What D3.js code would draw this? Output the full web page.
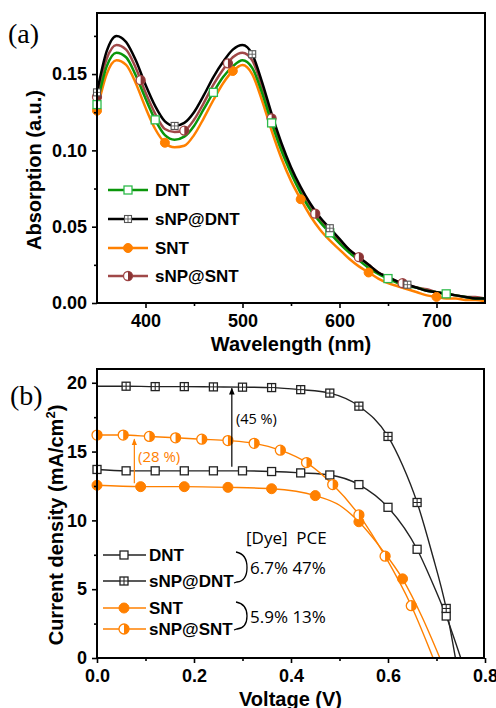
<!DOCTYPE html>
<html>
<head>
<meta charset="utf-8">
<script src="https://cdn.jsdelivr.net/npm/d3@7"></script>
<style>
  body { margin: 0; background: #fff; }
  svg { display: block; }
  .tk text { font-family: "Liberation Sans", Arial, sans-serif; font-weight: bold; font-size: 18px; fill: #000; }
  .tk line { stroke: #000; stroke-width: 1.6px; }
  .ttl { font-family: "Liberation Sans", Arial, sans-serif; font-weight: bold; font-size: 20px; }
  .lg { font-family: "Liberation Sans", Arial, sans-serif; font-weight: bold; font-size: 17px; }
  .note { font-family: "Open Sans", "Noto Sans", sans-serif; font-size: 17px; white-space: pre; }
</style>
</head>
<body>
<div id="chart"></div>
<script>
// ---- (a) absorption spectra ----
const wavelength = [350,360,370,380,390,400,410,420,430,440,450,460,470,480,490,500,510,520,530,540,550,
                    560,570,580,590,600,610,620,630,640,650,660,670,680,690,700,710,720,730,740,750];
const absDNT    = [0.130,0.155,0.164,0.161,0.149,0.134,0.120,0.110,0.107,0.109,0.116,0.127,0.138,0.148,0.155,0.159,0.154,0.138,0.118,0.100,0.085,
                   0.072,0.061,0.053,0.046,0.039,0.033,0.028,0.023,0.019,0.016,0.013,0.011,0.010,0.008,0.007,0.006,0.005,0.004,0.003,0.003];
const absSNPDNT = [0.138,0.165,0.175,0.171,0.159,0.143,0.129,0.119,0.116,0.118,0.125,0.136,0.148,0.158,0.166,0.169,0.163,0.145,0.124,0.105,0.089,
                   0.076,0.065,0.056,0.049,0.042,0.035,0.030,0.025,0.020,0.017,0.014,0.012,0.010,0.008,0.007,0.006,0.005,0.004,0.003,0.003];
const absSNT    = [0.126,0.150,0.159,0.156,0.144,0.128,0.114,0.105,0.102,0.103,0.110,0.121,0.133,0.144,0.152,0.156,0.150,0.133,0.113,0.095,0.080,
                   0.068,0.057,0.048,0.041,0.035,0.029,0.024,0.020,0.016,0.013,0.011,0.009,0.007,0.005,0.004,0.003,0.003,0.002,0.002,0.001];
const absSNPSNT = [0.135,0.160,0.169,0.166,0.154,0.138,0.124,0.114,0.112,0.113,0.120,0.131,0.143,0.153,0.161,0.164,0.159,0.142,0.121,0.103,0.087,
                   0.074,0.063,0.054,0.047,0.041,0.035,0.030,0.025,0.020,0.017,0.014,0.012,0.010,0.009,0.007,0.006,0.005,0.004,0.004,0.003];
const markDNTa    = [350,410,470,530,590,650,710];
const markSNPDNTa = [350,430,510,590,670];
const markSNTa    = [350,420,490,560,630,700];
const markSNPSNTa = [350,395,440,485,530,575,620,665];
const xTicksA = [400,500,600,700];
const xMinorA = [450,550,650];
const yTicksA = [0,0.05,0.10,0.15];
const yMinorA = [0.025,0.075,0.125,0.175];

// ---- (b) J-V curves ----
const vSNPDNT = [0,0.06,0.12,0.18,0.24,0.30,0.36,0.42,0.48,0.54,0.60,0.63,0.66,0.69,0.72,0.739];
const jSNPDNT = [19.75,19.75,19.72,19.72,19.70,19.68,19.65,19.50,19.25,18.30,16.10,14.00,11.30,7.70,3.60,0];
const vDNT = [0,0.06,0.12,0.18,0.24,0.30,0.36,0.42,0.48,0.54,0.60,0.66,0.69,0.72,0.75];
const jDNT = [13.70,13.60,13.60,13.60,13.60,13.60,13.55,13.45,13.30,12.60,10.95,7.90,5.60,3.05,0];
const vSNT = [0,0.09,0.18,0.27,0.36,0.45,0.50,0.54,0.585,0.63,0.67,0.707];
const jSNT = [12.55,12.45,12.45,12.40,12.30,11.80,11.10,9.90,8.00,5.75,3.00,0];
const vSNPSNT = [0,0.054,0.108,0.162,0.216,0.27,0.324,0.378,0.432,0.486,0.54,0.594,0.648,0.693];
const jSNPSNT = [16.20,16.20,16.10,16.00,15.90,15.80,15.60,15.10,14.20,12.60,10.40,7.40,3.80,0];
const markSNPDNTb = [0.06,0.12,0.18,0.24,0.30,0.36,0.42,0.48,0.54,0.60,0.66,0.72];
const markDNTb    = [0,0.06,0.12,0.18,0.24,0.30,0.36,0.42,0.48,0.54,0.60,0.66,0.72];
const markSNTb    = [0,0.09,0.18,0.27,0.36,0.45,0.54,0.63];
const markSNPSNTb = [0,0.054,0.108,0.162,0.216,0.27,0.324,0.378,0.432,0.486,0.54,0.594,0.648];
const xTicksB = [0,0.2,0.4,0.6,0.8];
const xMinorB = [0.1,0.3,0.5,0.7];
const yTicksB = [0,5,10,15,20];
const yMinorB = [2.5,7.5,12.5,17.5];

const W = 496, H = 708;
const svg = d3.select("#chart").append("svg").attr("width", W).attr("height", H);

const defs = svg.append("defs");
function arrowDef(id, color) {
  defs.append("marker").attr("id", id)
    .attr("viewBox", "0 0 10 10").attr("refX", 9).attr("refY", 5)
    .attr("markerWidth", 7).attr("markerHeight", 7).attr("markerUnits", "userSpaceOnUse")
    .attr("orient", "auto")
    .append("path").attr("d", "M0,1 L10,5 L0,9 Z").attr("fill", color);
}
arrowDef("arrK", "#000");
arrowDef("arrO", "#ff8000");

// linear lookup on a series (for marker positions)
function at(xs, ys, x) {
  const i = d3.bisectLeft(xs, x);
  if (xs[i] === x) return ys[i];
  const t = (x - xs[i - 1]) / (xs[i] - xs[i - 1]);
  return ys[i - 1] + t * (ys[i] - ys[i - 1]);
}

// marker shapes
function drawMark(g, type, cx, cy, o) {
  const s = o.size;
  if (type === "sq" || type === "sqx") {
    g.append("rect").attr("x", cx - s / 2).attr("y", cy - s / 2).attr("width", s).attr("height", s)
      .attr("fill", "#fff").attr("stroke", o.stroke).attr("stroke-width", o.sw);
    if (type === "sqx") {
      g.append("line").attr("x1", cx - s / 2).attr("x2", cx + s / 2).attr("y1", cy).attr("y2", cy)
        .attr("stroke", o.stroke).attr("stroke-width", o.sw * 0.8);
      g.append("line").attr("x1", cx).attr("x2", cx).attr("y1", cy - s / 2).attr("y2", cy + s / 2)
        .attr("stroke", o.stroke).attr("stroke-width", o.sw * 0.8);
    }
  } else if (type === "dot") {
    g.append("circle").attr("cx", cx).attr("cy", cy).attr("r", s / 2).attr("fill", o.fill).attr("stroke", o.fill);
  } else if (type === "half") {
    const r = s / 2;
    g.append("circle").attr("cx", cx).attr("cy", cy).attr("r", r).attr("fill", "#fff")
      .attr("stroke", o.stroke).attr("stroke-width", o.sw);
    g.append("path").attr("d", `M${cx},${cy - r} A${r},${r} 0 0 1 ${cx},${cy + r} Z`).attr("fill", o.fill);
  }
}

function frameAxes(x, y, top, bottom, left, right, xt, xm, yt, ym, xf, yf) {
  const gx = svg.append("g").attr("class", "tk").attr("transform", `translate(0,${bottom})`);
  gx.call(d3.axisBottom(x).tickValues(xt).tickSize(5).tickPadding(6).tickFormat(xf));
  gx.call(g => g.select(".domain").remove());
  const gxm = svg.append("g").attr("class", "tk").attr("transform", `translate(0,${bottom})`);
  gxm.call(d3.axisBottom(x).tickValues(xm).tickSize(3).tickFormat(""));
  gxm.select(".domain").remove();
  const gy = svg.append("g").attr("class", "tk").attr("transform", `translate(${left},0)`);
  gy.call(d3.axisLeft(y).tickValues(yt).tickSize(5).tickPadding(5).tickFormat(yf));
  gy.select(".domain").remove();
  const gym = svg.append("g").attr("class", "tk").attr("transform", `translate(${left},0)`);
  gym.call(d3.axisLeft(y).tickValues(ym).tickSize(3).tickFormat(""));
  gym.select(".domain").remove();
  svg.append("rect").attr("x", left).attr("y", top).attr("width", right - left).attr("height", bottom - top)
    .attr("fill", "none").attr("stroke", "#000").attr("stroke-width", 2);
}

// ================= panel (a) =================
const A = { left: 97, right: 485, top: 13, bottom: 303 };
const xA = d3.scaleLinear().domain([350, 750]).range([A.left, A.right]);
const yA = d3.scaleLinear().domain([0, 0.19]).range([A.bottom, A.top]);

const seriesA = [
  { name: "DNT",     ys: absDNT,    marks: markDNTa,    color: "#0a960a", type: "sq",   mk: { size: 8, stroke: "#2dbb4a", sw: 1.3 } },
  { name: "sNP@DNT", ys: absSNPDNT, marks: markSNPDNTa, color: "#000",    type: "sqx",  mk: { size: 7, stroke: "#555", sw: 1.1 } },
  { name: "SNT",     ys: absSNT,    marks: markSNTa,    color: "#ff8000", type: "dot",  mk: { size: 9, fill: "#ff8000" } },
  { name: "sNP@SNT", ys: absSNPSNT, marks: markSNPSNTa, color: "#a04848", type: "half", mk: { size: 9, stroke: "#a04848", fill: "#8a3434", sw: 1.3 } }
];

const lineA = d3.line().x((d, i) => xA(wavelength[i])).y(d => yA(d)).curve(d3.curveMonotoneX);
const plotA = svg.append("g");
// draw order so that black ends up on top like the reference
[2, 3, 0, 1].forEach(k => {
  const s = seriesA[k];
  plotA.append("path").attr("d", lineA(s.ys)).attr("fill", "none")
    .attr("stroke", s.color).attr("stroke-width", 2.5);
});
[2, 3, 0, 1].forEach(k => {
  const s = seriesA[k];
  s.marks.forEach(w => drawMark(plotA, s.type, xA(w), yA(at(wavelength, s.ys, w)), s.mk));
});

frameAxes(xA, yA, A.top, A.bottom, A.left, A.right, xTicksA, xMinorA, yTicksA, yMinorA,
  d3.format("d"), d3.format(".2f"));

// legend (a)
const legA = svg.append("g");
const legAy = [190, 219, 248, 276];
seriesA.forEach((s, i) => {
  const yy = legAy[i];
  legA.append("line").attr("x1", 108).attr("x2", 148).attr("y1", yy).attr("y2", yy)
    .attr("stroke", s.color).attr("stroke-width", 2.5);
  drawMark(legA, s.type, 128, yy, s.mk);
  legA.append("text").attr("class", "lg").attr("x", 155).attr("y", yy).attr("dy", "0.36em").text(s.name);
});

svg.append("text").attr("class", "ttl").attr("text-anchor", "middle")
  .attr("x", (A.left + A.right) / 2).attr("y", 351).text("Wavelength (nm)");
svg.append("text").attr("class", "ttl").attr("text-anchor", "middle")
  .attr("transform", "translate(41,170) rotate(-90)").text("Absorption (a.u.)");
svg.append("text").attr("x", 8).attr("y", 43)
  .style("font-family", "'Liberation Serif', 'Times New Roman', serif").style("font-size", "28px").text("(a)");

// ================= panel (b) =================
const B = { left: 97, right: 484, top: 369, bottom: 658 };
const xB = d3.scaleLinear().domain([0, 0.8]).range([B.left, B.right + 1]);
const yB = d3.scaleLinear().domain([0, 21]).range([B.bottom, B.top]);

const seriesB = [
  { name: "DNT",     vs: vDNT,    js: jDNT,    marks: markDNTb,    color: "#222", type: "sq",   mk: { size: 8, stroke: "#222", sw: 1.3 } },
  { name: "sNP@DNT", vs: vSNPDNT, js: jSNPDNT, marks: markSNPDNTb, color: "#222", type: "sqx",  mk: { size: 8, stroke: "#222", sw: 1.3 } },
  { name: "SNT",     vs: vSNT,    js: jSNT,    marks: markSNTb,    color: "#ff8000", type: "dot",  mk: { size: 10, fill: "#ff8000" } },
  { name: "sNP@SNT", vs: vSNPSNT, js: jSNPSNT, marks: markSNPSNTb, color: "#ff8000", type: "half", mk: { size: 10, stroke: "#ff8000", fill: "#ff8000", sw: 1.3 } }
];

const plotB = svg.append("g");
seriesB.forEach(s => {
  const ln = d3.line().x((d, i) => xB(s.vs[i])).y(d => yB(d)).curve(d3.curveMonotoneX);
  plotB.append("path").attr("d", ln(s.js)).attr("fill", "none")
    .attr("stroke", s.color).attr("stroke-width", 1.4);
});
seriesB.forEach(s => {
  s.marks.forEach(v => drawMark(plotB, s.type, xB(v), yB(at(s.vs, s.js, v)), s.mk));
});

frameAxes(xB, yB, B.top, B.bottom, B.left, B.right, xTicksB, xMinorB, yTicksB, yMinorB,
  d3.format(".1f"), d3.format("d"));

// improvement arrows
svg.append("line").attr("x1", xB(0.278)).attr("x2", xB(0.278)).attr("y1", yB(13.9)).attr("y2", yB(19.6))
  .attr("stroke", "#000").attr("stroke-width", 1.2).attr("marker-end", "url(#arrK)");
svg.append("line").attr("x1", xB(0.077)).attr("x2", xB(0.077)).attr("y1", yB(12.7)).attr("y2", yB(15.9))
  .attr("stroke", "#ff8000").attr("stroke-width", 1.2).attr("marker-end", "url(#arrO)");
svg.append("text").attr("class", "note").style("font-size", "14.5px")
  .attr("x", 236).attr("y", 419).attr("dy", "0.36em").text("(45 %)");
svg.append("text").attr("class", "note").style("font-size", "15px").attr("fill", "#ff8000")
  .attr("x", 138).attr("y", 457).attr("dy", "0.36em").text("(28 %)");

// legend (b)
const legB = svg.append("g");
const legBy = [555, 581, 608, 629];
seriesB.forEach((s, i) => {
  const yy = legBy[i];
  legB.append("line").attr("x1", 103).attr("x2", 146).attr("y1", yy).attr("y2", yy)
    .attr("stroke", s.color).attr("stroke-width", 1.4);
  drawMark(legB, s.type, 124, yy, s.mk);
  legB.append("text").attr("class", "lg").attr("x", 149).attr("y", yy).attr("dy", "0.36em").text(s.name);
});

// brackets and PCE notes
[[552, 583], [602, 630]].forEach(([y0, y1]) => {
  const ym = (y0 + y1) / 2;
  svg.append("path")
    .attr("d", `M236,${y0} Q247,${y0 + 2} 247,${ym} Q247,${y1 - 2} 237,${y1 - 1} L234,${y1}`)
    .attr("fill", "none").attr("stroke", "#000").attr("stroke-width", 1.3);
});
svg.append("text").attr("class", "note").attr("x", 246).attr("y", 538).attr("dy", "0.36em").text("[Dye]  PCE");
svg.append("text").attr("class", "note").attr("x", 250).attr("y", 568).attr("dy", "0.36em").text("6.7% 47%");
svg.append("text").attr("class", "note").attr("x", 250).attr("y", 617).attr("dy", "0.36em").text("5.9% 13%");

svg.append("text").attr("class", "ttl").attr("text-anchor", "middle")
  .attr("x", (B.left + B.right) / 2).attr("y", 706).text("Voltage (V)");
const yt = svg.append("text").attr("class", "ttl").attr("text-anchor", "middle")
  .attr("transform", "translate(63,525) rotate(-90)");
yt.append("tspan").text("Current density (mA/cm");
yt.append("tspan").attr("dy", -8).style("font-size", "13px").text("2");
yt.append("tspan").attr("dy", 8).text(")");
svg.append("text").attr("x", 10).attr("y", 405)
  .style("font-family", "'Liberation Serif', 'Times New Roman', serif").style("font-size", "28px").text("(b)");
</script>
</body>
</html>
